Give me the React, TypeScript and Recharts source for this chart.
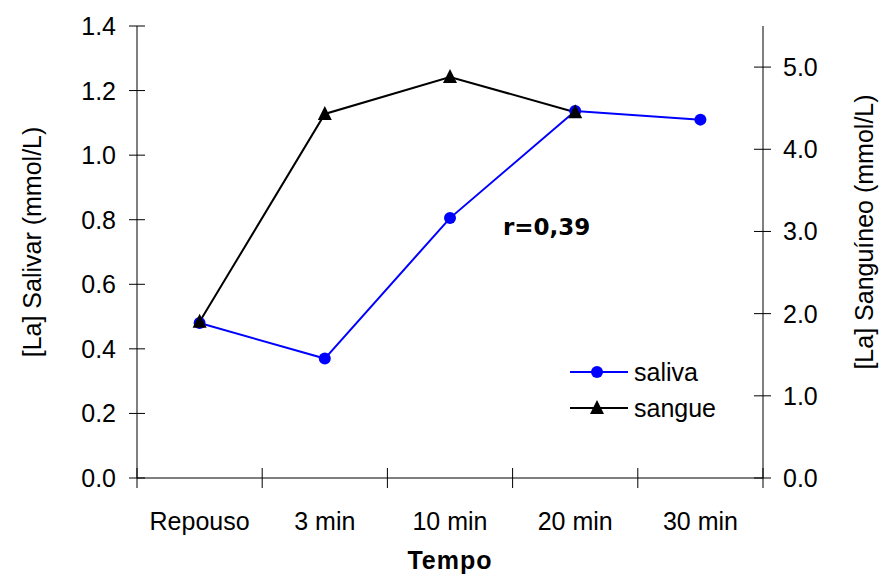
import { LineChart, Line, XAxis, YAxis, Legend } from "recharts";

const categories = ["Repouso", "3 min", "10 min", "20 min", "30 min"];
const salivaValues = [0.48, 0.37, 0.805, 1.137, 1.11];
const sangueValues: (number | null)[] = [1.9, 4.43, 4.88, 4.45, null];
const leftTicks = [0, 0.2, 0.4, 0.6, 0.8, 1.0, 1.2, 1.4];
const rightTicks = [0, 1, 2, 3, 4, 5];

const FONT = "'Liberation Sans', Arial, sans-serif";
const FS = 25;
const BLUE = "#0000FF";

const data = categories.map((name, i) => ({
  name,
  pos: i + 0.5,
  saliva: salivaValues[i],
  sangue: sangueValues[i],
}));

// ticks at category edges (tick marks) and centres (labels)
const xTicks = [...categories.map((_, i) => i), categories.length, ...categories.map((_, i) => i + 0.5)].sort(
  (a, b) => a - b
);

const XTick = ({ x, y, payload }: any) => {
  const v = payload.value;
  if (Number.isInteger(v)) {
    return <line x1={x} x2={x} y1={y - 10} y2={y + 10} stroke="#000" />;
  }
  return (
    <text x={x} y={y + 52} textAnchor="middle" fontSize={FS} fontFamily={FONT} fill="#000">
      {categories[Math.floor(v)]}
    </text>
  );
};

const LeftTick = ({ x, y, payload }: any) => (
  <g>
    <line x1={x - 8} x2={x + 8} y1={y} y2={y} stroke="#000" />
    <text x={x - 21} y={y} dy="0.36em" textAnchor="end" fontSize={FS} fontFamily={FONT} fill="#000">
      {payload.value.toFixed(1)}
    </text>
  </g>
);

const RightTick = ({ x, y, payload }: any) => (
  <g>
    <line x1={x - 9} x2={x + 8} y1={y} y2={y} stroke="#000" />
    <text x={x + 20} y={y} dy="0.36em" textAnchor="start" fontSize={FS} fontFamily={FONT} fill="#000">
      {payload.value.toFixed(1)}
    </text>
  </g>
);

const Triangle = ({ cx, cy, size = 7, fill = "#000" }: any) => (
  <polygon
    points={`${cx},${cy - size - 1} ${cx - size},${cy + size - 1} ${cx + size},${cy + size - 1}`}
    fill={fill}
  />
);

const renderTriangleDot = (props: any) => {
  const { cx, cy, index } = props;
  if (cx == null || cy == null) return <g key={`t-${index}`} />;
  return <Triangle key={`t-${index}`} cx={cx} cy={cy} />;
};

const leftTitle = ({ viewBox }: any) => {
  const cx = viewBox.x + 32;
  const cy = viewBox.y + viewBox.height / 2 - 10;
  return (
    <text x={cx} y={cy} dy="0.36em" textAnchor="middle" transform={`rotate(-90, ${cx}, ${cy})`} fontSize={FS} fontFamily={FONT} fill="#000">
      [La] Salivar (mmol/L)
    </text>
  );
};

const rightTitle = ({ viewBox }: any) => {
  const cx = viewBox.x + 101;
  const cy = viewBox.y + viewBox.height / 2 - 20;
  return (
    <text x={cx} y={cy} dy="0.36em" textAnchor="middle" transform={`rotate(-90, ${cx}, ${cy})`} fontSize={FS} fontFamily={FONT} fill="#000">
      [La] Sanguíneo (mmol/L)
    </text>
  );
};

const bottomTitle = ({ viewBox }: any) => (
  <text x={viewBox.x + viewBox.width / 2} y={viewBox.y + 91} textAnchor="middle" fontSize={FS} fontWeight="bold" fontFamily={FONT} fill="#000" letterSpacing={1}>
    Tempo
  </text>
);

const LegendBox = () => (
  <svg width={170} height={72} style={{ display: "block" }}>
    <line x1={2} x2={60} y1={17} y2={17} stroke={BLUE} strokeWidth={2} />
    <circle cx={29} cy={17} r={6} fill={BLUE} />
    <text x={66} y={17} dy="0.36em" fontSize={FS} fontFamily={FONT} fill="#000">saliva</text>
    <line x1={2} x2={60} y1={53} y2={53} stroke="#000" strokeWidth={2} />
    <Triangle cx={29} cy={53} />
    <text x={66} y={53} dy="0.36em" fontSize={FS} fontFamily={FONT} fill="#000">sangue</text>
  </svg>
);

export default function App() {
  return (
    <div style={{ position: "absolute", left: 0, top: 0, width: 885, height: 582, background: "#fff" }}>
      <LineChart width={885} height={582} data={data} margin={{ top: 26, right: 0, bottom: 0, left: 0 }}>
        <XAxis
          dataKey="pos"
          type="number"
          domain={[0, categories.length]}
          ticks={xTicks}
          interval={0}
          tick={<XTick />}
          tickLine={false}
          tickSize={0}
          tickMargin={0}
          height={104}
          axisLine={{ stroke: "#000" }}
          label={bottomTitle}
        />
        <YAxis
          yAxisId="left"
          domain={[0, 1.4]}
          ticks={leftTicks}
          interval={0}
          width={137}
          tick={<LeftTick />}
          tickLine={false}
          tickSize={0}
          tickMargin={0}
          axisLine={{ stroke: "#000" }}
          label={leftTitle}
        />
        <YAxis
          yAxisId="right"
          orientation="right"
          domain={[0, 5.5]}
          ticks={rightTicks}
          interval={0}
          width={122}
          tick={<RightTick />}
          tickLine={false}
          tickSize={0}
          tickMargin={0}
          axisLine={{ stroke: "#000" }}
          label={rightTitle}
        />
        <Legend
          layout="vertical"
          align="center"
          verticalAlign="middle"
          wrapperStyle={{ position: "absolute", left: 568, top: 355, width: 170 }}
          content={() => <LegendBox />}
        />
        <Line
          yAxisId="left"
          dataKey="saliva"
          stroke={BLUE}
          strokeWidth={2}
          dot={{ r: 6, fill: BLUE, stroke: BLUE, strokeWidth: 0 }}
          activeDot={false}
          isAnimationActive={false}
        />
        <Line
          yAxisId="right"
          dataKey="sangue"
          stroke="#000"
          strokeWidth={2}
          dot={renderTriangleDot}
          activeDot={false}
          isAnimationActive={false}
        />
      </LineChart>
      <svg width={885} height={582} style={{ position: "absolute", left: 0, top: 0, pointerEvents: "none" }}>
        <text x={503} y={235} fontSize={23} fontWeight="bold" fontFamily="'DejaVu Sans', Verdana, sans-serif" fill="#000">
          r=0,39
        </text>
      </svg>
    </div>
  );
}
